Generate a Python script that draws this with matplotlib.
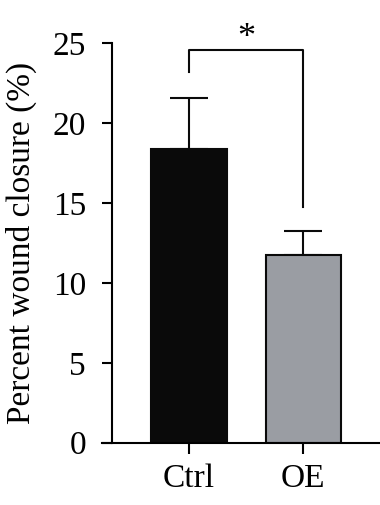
import matplotlib
matplotlib.use("Agg")
import matplotlib.pyplot as plt

categories = ["Ctrl", "OE"]
means = [18.4, 11.75]
errors = [3.2, 1.5]
yticks = [0, 5, 10, 15, 20, 25]
sig_label = "*"

plt.rcParams['font.family'] = ['Liberation Serif', 'DejaVu Serif']
FS = 24

fig = plt.figure(figsize=(3.8, 5.05), dpi=100)
ax = fig.add_axes([0.2676, 0.1234, 0.7324, 0.7909])

x = list(range(len(categories)))
colors = ["#0a0a0a", "#9a9da3"]
ax.bar(x, means, width=0.66, color=colors, edgecolor="#0a0a0a", linewidth=1.5, zorder=2)
for xi, m, e in zip(x, means, errors):
    ax.errorbar([xi], [m], yerr=[[0], [e]], fmt="none", ecolor="#0a0a0a",
                elinewidth=1.5, capsize=13.5, capthick=1.5, zorder=1)

ax.set_xlim(-0.764, 1.671)
ax.set_ylim(0, 25)
ax.set_yticks(yticks)
ax.set_xticks(x)
ax.set_xticklabels(categories)

for s in ["top", "right"]:
    ax.spines[s].set_visible(False)
ax.spines['left'].set_position(('data', -0.676))
ax.spines['left'].set_bounds(0, 25)
ax.spines['left'].set_linewidth(1.5)
ax.spines['bottom'].set_linewidth(1.5)
ax.tick_params(axis='y', direction='out', length=7.5, width=1.5, labelsize=FS, pad=11)
ax.tick_params(axis='x', direction='out', length=8, width=1.5, labelsize=FS, pad=7)
ax.set_ylabel("Percent wound closure (%)", fontsize=FS, labelpad=11)

# significance bracket
y_top = 24.55
ax.plot([0, 0, 1, 1], [23.2, y_top, y_top, 14.75], color="#0a0a0a", lw=1.5, clip_on=False)
ax.text(0.5, 24.75, sig_label, ha="center", va="baseline", fontsize=FS + 2, clip_on=False)

fig.savefig("out.png", dpi=100)
